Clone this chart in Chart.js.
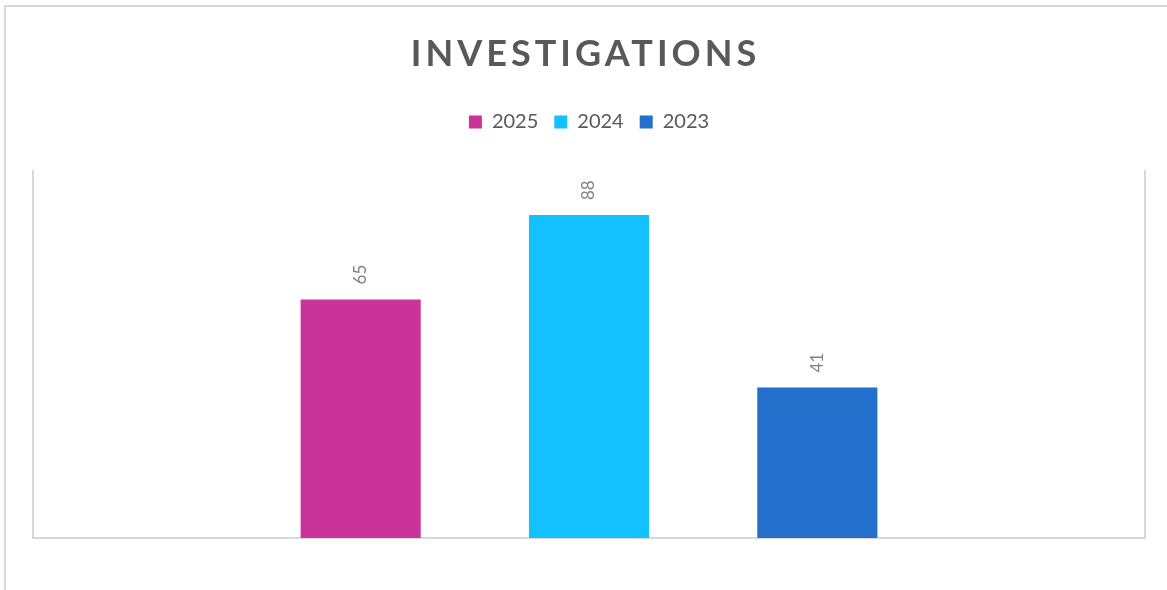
<!DOCTYPE html>
<html>
<head>
<meta charset="utf-8">
<script src="https://cdn.jsdelivr.net/npm/chart.js@4.4.1/dist/chart.umd.min.js"></script>
<style>
  html, body { margin: 0; padding: 0; background: #fff; overflow: hidden; }
  #frame {
    position: absolute; left: 4px; top: 5px; width: 1300px; height: 700px;
    border-top: 2px solid #d9d9d9; border-left: 2px solid #d9d9d9;
  }
  #wrap { position: absolute; left: 0; top: 0; width: 1167px; height: 590px; }
</style>
</head>
<body>
<div id="frame"></div>
<div id="wrap"><canvas id="chart"></canvas></div>
<script>
const chartTitle = 'INVESTIGATIONS';
const categories = ['Investigations'];
const seriesNames = ['2025', '2024', '2023'];
const seriesValues = [65, 88, 41];
const seriesColors = ['#C9339A', '#12C1FE', '#236FCC'];

const fontFamily = 'Lato, "Open Sans", sans-serif';
const frameGray = '#d9d9d9';

// Title drawn by hand so it can be letter-spaced
const spacedTitle = {
  id: 'spacedTitle',
  afterDraw(chart) {
    const ctx = chart.ctx;
    ctx.save();
    ctx.font = `bold 36px ${fontFamily}`;
    ctx.fillStyle = '#595959';
    ctx.letterSpacing = '4px';
    ctx.textAlign = 'center';
    ctx.textBaseline = 'middle';
    ctx.fillText(chartTitle, chart.width / 2 + 2, 54);
    ctx.restore();
  }
};

// push the plot area down a bit below the legend
const legendGap = {
  id: 'legendGap',
  beforeInit(chart) {
    const fit = chart.legend.fit;
    chart.legend.fit = function () {
      fit.call(this);
      this.height += 29;
    };
  }
};

// Rotated value labels above each bar
const barLabels = {
  id: 'barLabels',
  afterDatasetsDraw(chart) {
    const ctx = chart.ctx;
    ctx.save();
    ctx.font = `17px ${fontFamily}`;
    ctx.fillStyle = '#808080';
    ctx.textAlign = 'left';
    ctx.textBaseline = 'middle';
    chart.data.datasets.forEach((ds, i) => {
      chart.getDatasetMeta(i).data.forEach((bar, j) => {
        ctx.save();
        ctx.translate(bar.x, bar.y - 15);
        ctx.rotate(-Math.PI / 2);
        ctx.fillText(String(ds.data[j]), 0, 0);
        ctx.restore();
      });
    });
    ctx.restore();
  }
};

const ctx = document.getElementById('chart').getContext('2d');
new Chart(ctx, {
  type: 'bar',
  data: {
    labels: categories,
    datasets: seriesNames.map((name, i) => ({
      label: name,
      data: [seriesValues[i]],
      backgroundColor: seriesColors[i],
      borderWidth: 0,
      categoryPercentage: 0.616,
      barPercentage: 0.526
    }))
  },
  options: {
    responsive: true,
    maintainAspectRatio: false,
    animation: false,
    layout: { padding: { top: 96, left: 33, right: 22, bottom: 52 } },
    scales: {
      x: {
        ticks: { display: false },
        grid: { display: false, drawTicks: false },
        border: { display: true, color: frameGray, width: 2 }
      },
      y: {
        min: 0,
        max: 100,
        ticks: { display: false },
        grid: { display: false, drawTicks: false },
        border: { display: true, color: frameGray, width: 2 }
      },
      yRight: {
        position: 'right',
        min: 0,
        max: 100,
        ticks: { display: false },
        grid: { display: false, drawTicks: false },
        border: { display: true, color: frameGray, width: 2 }
      }
    },
    plugins: {
      title: { display: false },
      tooltip: { enabled: false },
      legend: {
        position: 'top',
        labels: {
          boxWidth: 13,
          boxHeight: 13,
          padding: 16,
          color: '#595959',
          font: { family: fontFamily, size: 20 }
        }
      }
    }
  },
  plugins: [spacedTitle, legendGap, barLabels]
});
</script>
</body>
</html>
